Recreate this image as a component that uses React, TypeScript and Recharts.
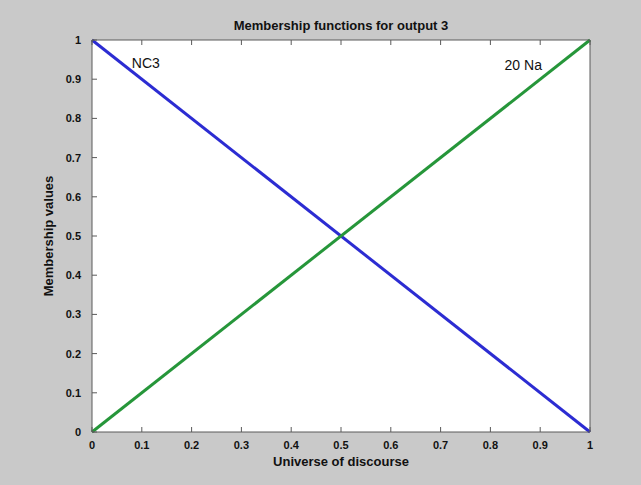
import React from 'react';
import { LineChart, Line, XAxis, YAxis, CartesianGrid, ReferenceDot, Label } from 'recharts';

const universe = [0, 1];
const nc3 = [1, 0];
const na20 = [0, 1];
const tickValues = [0, 0.1, 0.2, 0.3, 0.4, 0.5, 0.6, 0.7, 0.8, 0.9, 1];
const tickLabels = ['0', '0.1', '0.2', '0.3', '0.4', '0.5', '0.6', '0.7', '0.8', '0.9', '1'];

const data = universe.map((u, i) => ({ u, nc3: nc3[i], na20: na20[i] }));

const font = '"Liberation Sans", Arial, sans-serif';
const axisColor = '#5a5a5a';

const labelFor = (v: number) => tickLabels[tickValues.indexOf(v)] ?? String(v);

// MATLAB-style ticks: short marks pointing into the plot
const BottomTick = (props: any) => {
  const { x, y, payload } = props;
  return (
    <g>
      <line x1={x} x2={x} y1={y} y2={y - 5} stroke={axisColor} />
      <text x={x} y={y + 17} textAnchor="middle" fontSize={11} fontWeight="bold" fontFamily={font} fill="#111">
        {labelFor(payload.value)}
      </text>
    </g>
  );
};
const TopTick = (props: any) => {
  const { x, y } = props;
  return <line x1={x} x2={x} y1={y} y2={y + 5} stroke={axisColor} />;
};
const LeftTick = (props: any) => {
  const { x, y, payload } = props;
  return (
    <g>
      <line x1={x} x2={x + 5} y1={y} y2={y} stroke={axisColor} />
      <text x={x - 11} y={y + 4} textAnchor="end" fontSize={11} fontWeight="bold" fontFamily={font} fill="#111">
        {labelFor(payload.value)}
      </text>
    </g>
  );
};
const RightTick = (props: any) => {
  const { x, y } = props;
  return <line x1={x} x2={x - 5} y1={y} y2={y} stroke={axisColor} />;
};

export default function App() {
  return (
    <div style={{ position: 'absolute', left: 0, top: 0, width: 641, height: 485, background: '#c9c9c9' }}>
      <LineChart width={641} height={485} data={data} margin={{ top: 39, right: 50, left: 42, bottom: 28 }}>
        <CartesianGrid fill="#ffffff" horizontal={false} vertical={false} />
        <XAxis
          dataKey="u"
          type="number"
          domain={[0, 1]}
          ticks={tickValues}
          height={25}
          tickSize={0}
          tickMargin={0}
          tickLine={false}
          axisLine={{ stroke: axisColor }}
          tick={<BottomTick />}
          interval={0}
        >
          <Label value="Universe of discourse" position="bottom" offset={0} fontSize={13} fontWeight="bold" fontFamily={font} fill="#111" />
        </XAxis>
        <XAxis
          xAxisId="top"
          orientation="top"
          dataKey="u"
          type="number"
          domain={[0, 1]}
          ticks={tickValues}
          height={1}
          tickSize={0}
          tickMargin={0}
          tickLine={false}
          axisLine={{ stroke: axisColor }}
          tick={<TopTick />}
          interval={0}
        >
          <Label value="Membership functions for output 3" position="top" offset={9} fontSize={13} fontWeight="bold" fontFamily={font} fill="#111" />
        </XAxis>
        <YAxis
          type="number"
          domain={[0, 1]}
          ticks={tickValues}
          width={50}
          tickSize={0}
          tickMargin={0}
          tickLine={false}
          axisLine={{ stroke: axisColor }}
          tick={<LeftTick />}
          interval={0}
        >
          <Label
            value="Membership values"
            angle={-90}
            position="insideLeft"
            offset={6}
            style={{ textAnchor: 'middle' }}
            fontSize={13}
            fontWeight="bold"
            fontFamily={font}
            fill="#111"
          />
        </YAxis>
        <YAxis
          yAxisId="right"
          orientation="right"
          type="number"
          domain={[0, 1]}
          ticks={tickValues}
          width={1}
          tickSize={0}
          tickMargin={0}
          tickLine={false}
          axisLine={{ stroke: axisColor }}
          tick={<RightTick />}
          interval={0}
        />
        <Line type="linear" dataKey="nc3" stroke="#2c2cd2" strokeWidth={3} dot={false} isAnimationActive={false} />
        <Line type="linear" dataKey="na20" stroke="#26963a" strokeWidth={3} dot={false} isAnimationActive={false} />
        <ReferenceDot
          x={0.108}
          y={0.94}
          r={0}
          fill="none"
          stroke="none"
          label={{ value: 'NC3', position: 'center', fontSize: 14, fontFamily: font, fill: '#111' }}
        />
        <ReferenceDot
          x={0.866}
          y={0.936}
          r={0}
          fill="none"
          stroke="none"
          label={{ value: '20 Na', position: 'center', fontSize: 14, fontFamily: font, fill: '#111' }}
        />
      </LineChart>
    </div>
  );
}
